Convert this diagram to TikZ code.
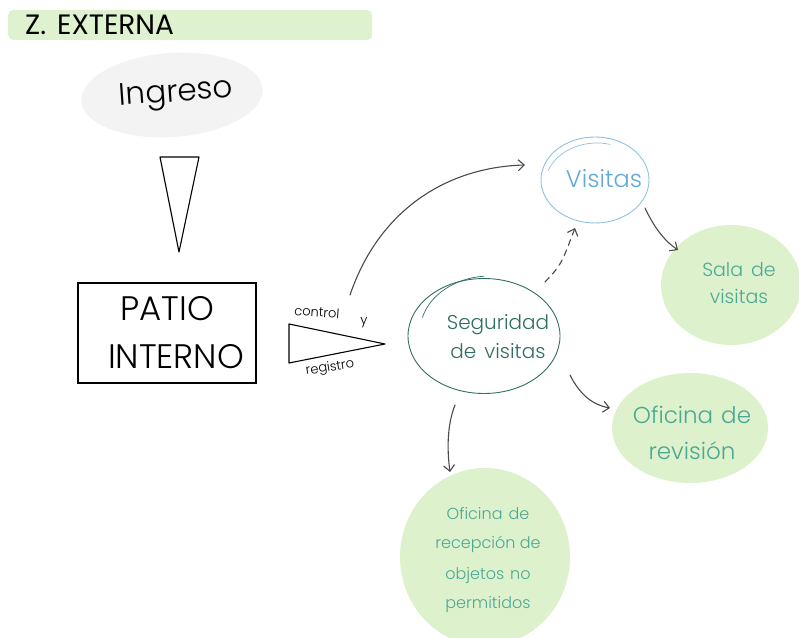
\documentclass[tikz,border=0pt]{standalone}
\usepackage{fontspec}
\setmainfont{Poppins}[UprightFont=* Light]
\newfontfamily\headfont{Poppins}
\usetikzlibrary{shapes.geometric,arrows.meta}

\definecolor{titlegreen}{HTML}{DEF2CF}
\definecolor{blobgreen}{HTML}{DDF1CC}
\definecolor{ingresogray}{HTML}{F3F3F3}
\definecolor{tealtext}{HTML}{4AA893}
\definecolor{darkteal}{HTML}{2F6E64}
\definecolor{skyline}{HTML}{8CC2E0}
\definecolor{skytext}{HTML}{62A9D6}
\definecolor{linkgray}{HTML}{4A4A4A}

\newcommand{\fs}[1]{\fontsize{#1}{1.2\dimexpr#1pt\relax}\selectfont}

\begin{document}
\begin{tikzpicture}[x=1pt,y=1pt,
  conn/.style={draw=linkgray, line width=1.1pt, line cap=round,
    -{Straight Barb[length=6pt,width=11pt,line width=1.1pt]}},
  blob/.style={ellipse, fill=blobgreen, inner sep=0pt},
  blobtext/.style={text=tealtext, align=center, inner sep=0pt},
  outline/.style={line width=0.9pt}
]
\useasboundingbox (0,0) rectangle (799,637);
\clip (0,0) rectangle (799,637);

% heading bar
\node[fill=titlegreen, rounded corners=5pt, anchor=west, minimum height=30pt,
      text width=334pt, inner xsep=15pt, align=left, font=\headfont\fs{28}] (title) at (8,612)
      {\hspace*{2pt}Z.\hspace{11pt}EXTERNA};

% entry
\node[ellipse, fill=ingresogray, minimum width=164pt, minimum height=84pt,
      rotate=4, font=\fs{31}] (ing) at (172,542) {\hspace*{8pt}Ingreso};

% funnel between entry and inner yard
\draw[line width=1.1pt, line join=round] (160,480) -- (199,480) -- (179,385) -- cycle;

% inner yard
\node[draw, line width=1.2pt, minimum width=178pt, minimum height=100pt,
      align=center, font=\fs{34}] (patio) at (167,304) {PATIO\\[7pt]\hspace*{18pt}INTERNO};

% control and registration wedge
\draw[line width=1.1pt, line join=round] (289,313) -- (289,274) -- (385,293) -- cycle;
\node[font=\fs{13}, rotate=-4] (ctl) at (317,325) {control};
\node[font=\fs{13}] (yy) at (364,314) {y};
\node[font=\fs{13}, rotate=9] (reg) at (330,269) {registro};

% visits
\node[ellipse, draw=skyline, outline, minimum width=108pt, minimum height=86pt,
      inner sep=0pt] (vis) at (595,457) {};
\node[text=skytext, font=\fs{24}] (vistext) at ([xshift=9pt,yshift=1pt]vis.center) {Visitas};
\draw[draw=skyline, line width=0.7pt] ([shift={(2,-5)}]vis.center) ++(75:52pt and 42pt)
      arc[start angle=75, end angle=160, x radius=52pt, y radius=42pt];

% visit security
\node[ellipse, draw=darkteal, outline, minimum width=152pt, minimum height=115pt,
      inner sep=0pt] (seg) at (484,301) {};
\node[text=darkteal, align=center, font=\fs{20}] (segtext) at ([xshift=14pt,yshift=-1pt]seg.center)
      {Seguridad\\[5pt]de\hspace{8pt}visitas};
\draw[draw=darkteal, line width=0.7pt] ([shift={(6,4)}]seg.center) ++(95:70pt and 56pt)
      arc[start angle=95, end angle=165, x radius=70pt, y radius=56pt];

% destination rooms
\node[blob, minimum width=140pt, minimum height=120pt] (sala) at (731,352) {};
\node[blobtext, font=\fs{19}] (salatext) at ([xshift=8pt,yshift=2pt]sala.center)
      {Sala\hspace{8pt}de\\[5pt]visitas};
\node[blob, minimum width=156pt, minimum height=110pt] (rev) at (690,209) {};
\node[blobtext, font=\fs{23}] (revtext) at ([xshift=2pt,yshift=-5pt]rev.center)
      {Oficina\hspace{8pt}de\\[9pt]revisión};
\node[blob, minimum width=170pt, minimum height=178pt] (rec) at (485,80) {};
\node[blobtext, font=\fs{16}] (rectext) at ([xshift=3pt,yshift=-3pt]rec.center)
      {Oficina\hspace{6pt}de\\[10pt]recepción de\\[11pt]objetos\hspace{6pt}no\\[10pt]permitidos};

% connectors
\draw[conn] ([shift={(-245,-115)}]vis.center) .. controls ([shift={(-215,-27)}]vis.center)
      and ([shift={(-145,13)}]vis.center) .. ([shift={(-70,15)}]vis.center);
\draw[conn] ([shift={(50,-28)}]vis.center) .. controls ([shift={(58,-45)}]vis.center)
      and ([shift={(68,-60)}]vis.center) .. ([shift={(-53,35)}]sala.center);
\draw[conn, dashed, dash pattern=on 6pt off 5pt] ([shift={(61,54)}]seg.center)
      .. controls ([shift={(77,71)}]seg.center) .. ([shift={(-20,-48)}]vis.center);
\draw[conn] ([shift={(86,-39)}]seg.center) .. controls ([shift={(96,-59)}]seg.center)
      and ([shift={(109,-69)}]seg.center) .. ([shift={(-80,20)}]rev.center);
\draw[conn] ([shift={(-29,-69)}]seg.center) .. controls ([shift={(-37,-89)}]seg.center)
      and ([shift={(-37,-114)}]seg.center) .. ([shift={(-35,85)}]rec.center);
\end{tikzpicture}
\end{document}
